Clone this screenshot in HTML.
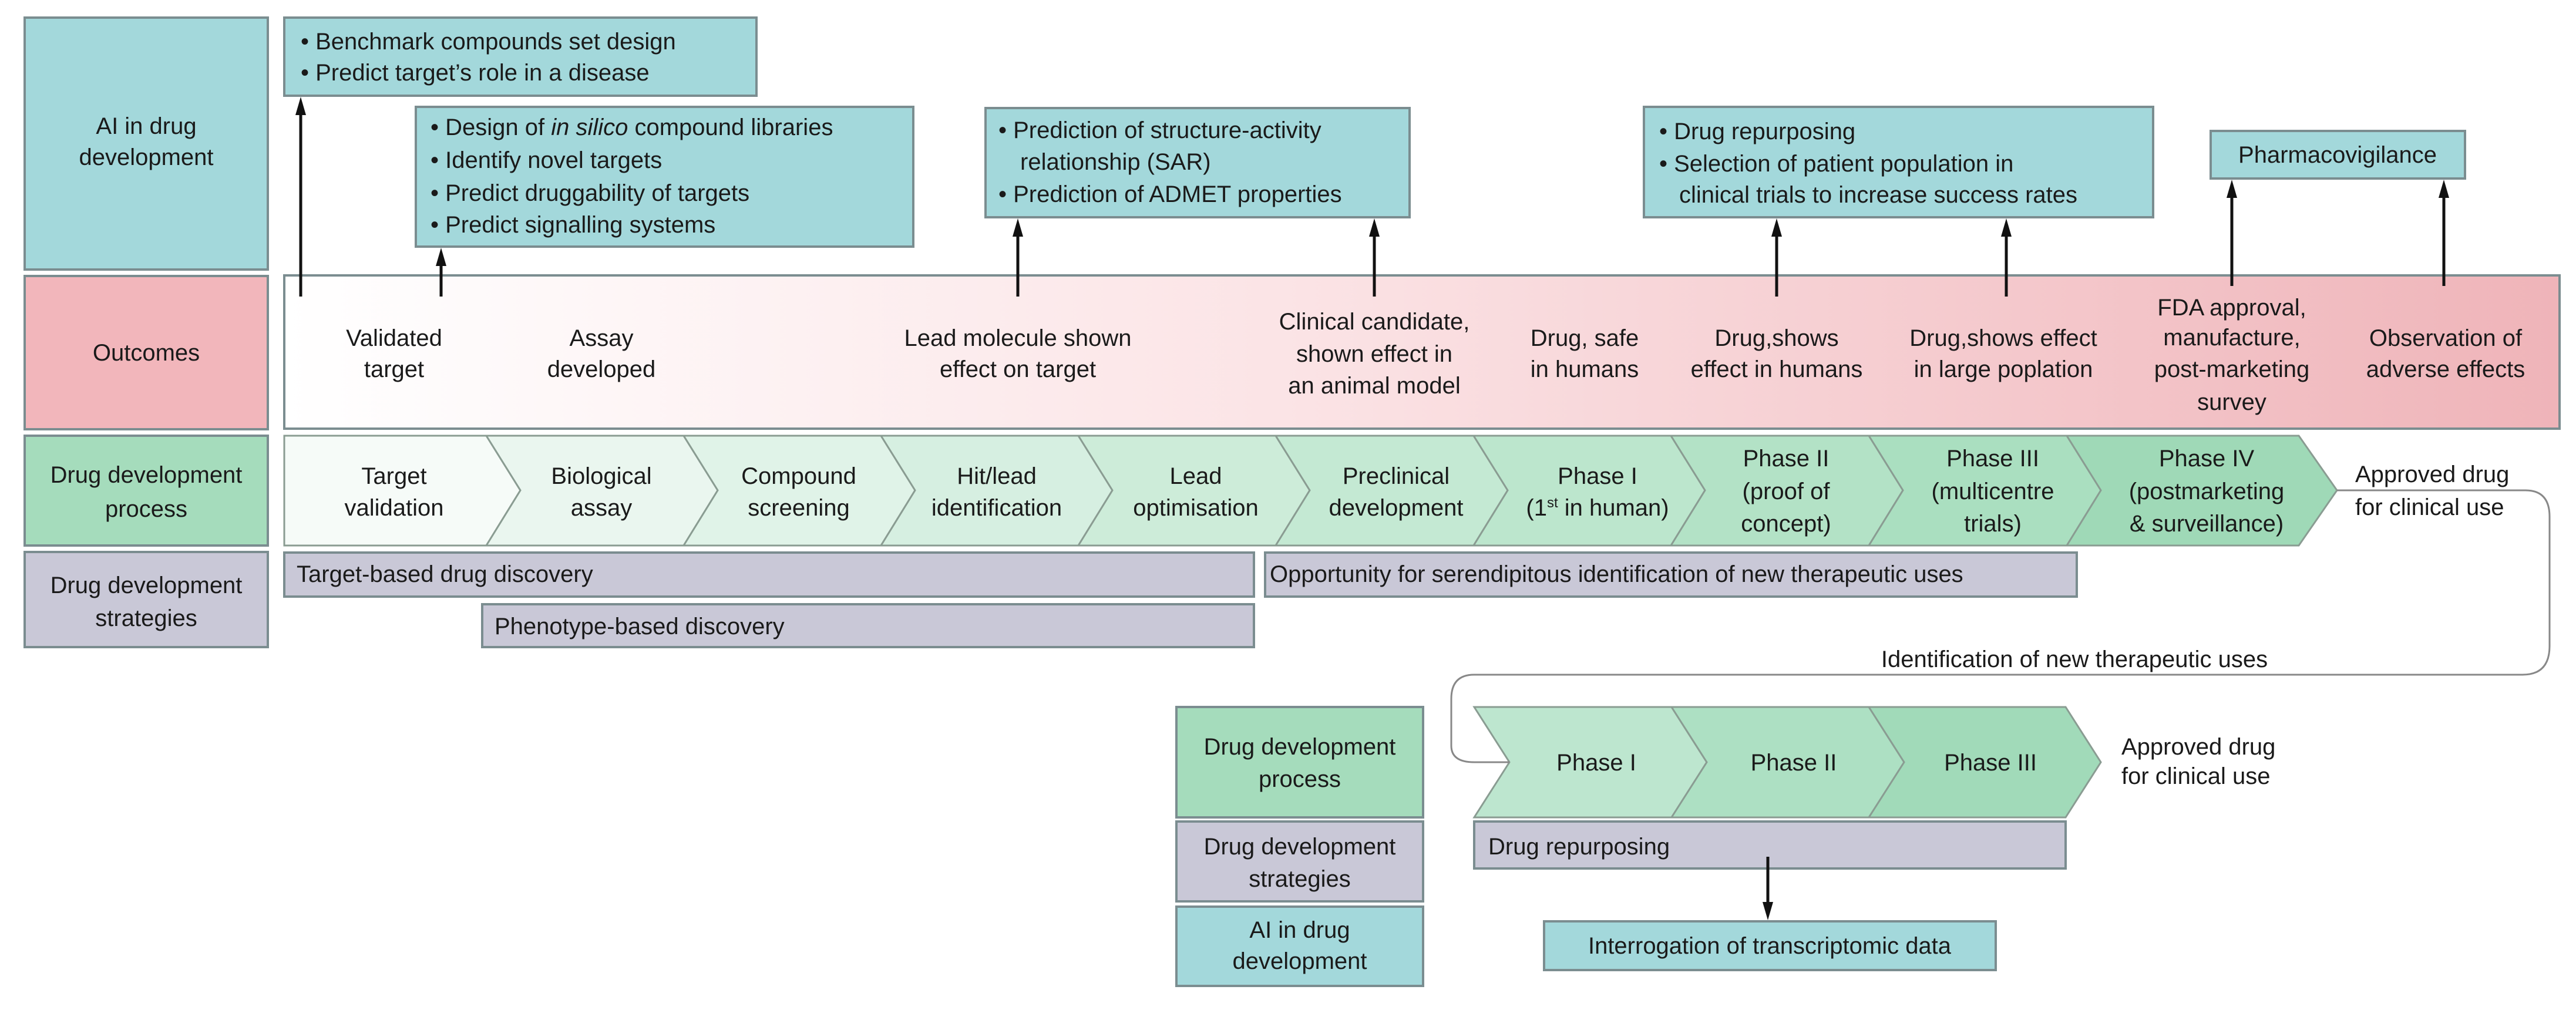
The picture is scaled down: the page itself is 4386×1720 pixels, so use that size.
<!DOCTYPE html>
<html><head><meta charset="utf-8"><style>
html,body{margin:0;padding:0;background:#fff}
svg{display:block}
text{font-family:"Liberation Sans Narrow","Liberation Sans",sans-serif;font-size:40px;fill:#1a1a1a}
.c{text-anchor:middle}
</style></head><body>
<svg width="4386" height="1720" viewBox="0 0 4386 1720" xmlns="http://www.w3.org/2000/svg">
<defs>
<linearGradient id="pk" x1="0" x2="1" y1="0" y2="0">
<stop offset="0" stop-color="#ffffff"/><stop offset="0.45" stop-color="#fbe3e5"/><stop offset="1" stop-color="#efb4b9"/>
</linearGradient>
</defs>
<g stroke="#7b8d90" stroke-width="4">
<rect x="42" y="30" width="414" height="429" fill="#a3d8db"/>
<rect x="42" y="470" width="414" height="261" fill="#f2b6bb"/>
<rect x="42" y="742" width="414" height="187" fill="#a5dcbc"/>
<rect x="42" y="940" width="414" height="162" fill="#c9c8d7"/>
<rect x="484" y="30" width="804" height="133" fill="#a3d8db"/>
<rect x="708" y="182" width="847" height="238" fill="#a3d8db"/>
<rect x="1678" y="184" width="722" height="186" fill="#a3d8db"/>
<rect x="2799" y="182" width="867" height="188" fill="#a3d8db"/>
<rect x="3764" y="223" width="433" height="81" fill="#a3d8db"/>
<rect x="484" y="469" width="3874" height="261" fill="url(#pk)"/>
<rect x="484" y="941" width="1651" height="75" fill="#c9c8d7"/>
<rect x="821" y="1029" width="1314" height="73" fill="#c9c8d7"/>
<rect x="2154" y="941" width="1382" height="75" fill="#c9c8d7"/>
</g>
<g stroke="#8a9c92" stroke-width="3">
<polygon points="484,742 828,742 886,835 828,929 484,929" fill="#f6fbf8"/>
<polygon points="828,742 1164,742 1222,835 1164,929 828,929 886,835" fill="#eaf6ef"/>
<polygon points="1164,742 1500,742 1558,835 1500,929 1164,929 1222,835" fill="#e0f3e8"/>
<polygon points="1500,742 1836,742 1894,835 1836,929 1500,929 1558,835" fill="#d6efe1"/>
<polygon points="1836,742 2172,742 2230,835 2172,929 1836,929 1894,835" fill="#cdecd9"/>
<polygon points="2172,742 2509,742 2567,835 2509,929 2172,929 2230,835" fill="#c4e9d3"/>
<polygon points="2509,742 2845,742 2903,835 2845,929 2509,929 2567,835" fill="#bce6cd"/>
<polygon points="2845,742 3182,742 3240,835 3182,929 2845,929 2903,835" fill="#b3e2c6"/>
<polygon points="3182,742 3519,742 3577,835 3519,929 3182,929 3240,835" fill="#aadfc0"/>
<polygon points="3519,742 3914,742 3979,835 3914,929 3519,929 3577,835" fill="#9fd9b7"/>
<polygon points="2510,1204 2846,1204 2906,1298 2846,1392 2510,1392 2570,1298" fill="#bde6cf"/>
<polygon points="2846,1204 3182,1204 3242,1298 3182,1392 2846,1392 2906,1298" fill="#ade0c3"/>
<polygon points="3182,1204 3517,1204 3577,1298 3517,1392 3182,1392 3242,1298" fill="#a1dab9"/>
</g>
<g stroke="#7b8d90" stroke-width="4">
<rect x="2003" y="1204" width="420" height="188" fill="#a5dcbc"/>
<rect x="2003" y="1399" width="420" height="136" fill="#c9c8d7"/>
<rect x="2003" y="1544" width="420" height="135" fill="#a3d8db"/>
<rect x="2510" y="1399" width="1007" height="80" fill="#c9c8d7"/>
<rect x="2629" y="1569" width="769" height="83" fill="#a3d8db"/>
</g>
<path d="M3979,835 L4300,835 Q4341,835 4341,880 L4341,1100 Q4341,1149 4295,1149 L2510,1149 Q2471,1149 2471,1190 L2471,1270 Q2471,1298 2510,1298 L2570,1298" fill="none" stroke="#888" stroke-width="3"/>
<g stroke="#111" stroke-width="5">
<line x1="512" y1="505" x2="512" y2="185"/>
<line x1="751" y1="505" x2="751" y2="442"/>
<line x1="1733" y1="505" x2="1733" y2="392"/>
<line x1="2340" y1="505" x2="2340" y2="392"/>
<line x1="3025" y1="505" x2="3025" y2="392"/>
<line x1="3416" y1="505" x2="3416" y2="392"/>
<line x1="3800" y1="487" x2="3800" y2="328"/>
<line x1="4161" y1="487" x2="4161" y2="328"/>
<line x1="3010" y1="1459" x2="3010" y2="1545"/>
</g>
<g fill="#111">
<polygon points="503,196 512,165 521,196"/>
<polygon points="742,453 751,422 760,453"/>
<polygon points="1724,403 1733,372 1742,403"/>
<polygon points="2331,403 2340,372 2349,403"/>
<polygon points="3016,403 3025,372 3034,403"/>
<polygon points="3407,403 3416,372 3425,403"/>
<polygon points="3791,337 3800,306 3809,337"/>
<polygon points="4152,337 4161,306 4170,337"/>
<polygon points="3001,1536 3010,1567 3019,1536"/>
</g>
<text class="c" x="249" y="228">AI in drug</text><text class="c" x="249" y="281">development</text>
<text class="c" x="249" y="614">Outcomes</text>
<text class="c" x="249" y="822">Drug development</text><text class="c" x="249" y="880">process</text>
<text class="c" x="249" y="1010">Drug development</text><text class="c" x="249" y="1066">strategies</text>
<text x="512" y="84">•  Benchmark compounds set design</text>
<text x="512" y="137">•  Predict target’s role in a disease</text>
<text x="733" y="230">•  Design of <tspan font-style="italic">in silico</tspan> compound libraries</text>
<text x="733" y="286">•  Identify novel targets</text>
<text x="733" y="342">•  Predict druggability of targets</text>
<text x="733" y="396">•  Predict signalling systems</text>
<text x="1700" y="235">•  Prediction of structure-activity</text>
<text x="1737" y="289">relationship (SAR)</text>
<text x="1700" y="344">•  Prediction of ADMET properties</text>
<text x="2825" y="237">•  Drug repurposing</text>
<text x="2825" y="292">•  Selection of patient population in</text>
<text x="2859" y="345">clinical trials to increase success rates</text>
<text class="c" x="3980" y="277">Pharmacovigilance</text>
<text class="c" x="671" y="589">Validated</text><text class="c" x="671" y="642">target</text>
<text class="c" x="1024" y="589">Assay</text><text class="c" x="1024" y="642">developed</text>
<text class="c" x="1733" y="589">Lead molecule shown</text><text class="c" x="1733" y="642">effect on target</text>
<text class="c" x="2340" y="561">Clinical candidate,</text><text class="c" x="2340" y="616">shown effect in</text><text class="c" x="2340" y="670">an animal model</text>
<text class="c" x="2698" y="589">Drug, safe</text><text class="c" x="2698" y="642">in humans</text>
<text class="c" x="3025" y="589">Drug,shows</text><text class="c" x="3025" y="642">effect in humans</text>
<text class="c" x="3411" y="589">Drug,shows effect</text><text class="c" x="3411" y="642">in large poplation</text>
<text class="c" x="3800" y="537">FDA approval,</text><text class="c" x="3800" y="588">manufacture,</text><text class="c" x="3800" y="642">post-marketing</text><text class="c" x="3800" y="698">survey</text>
<text class="c" x="4164" y="589">Observation of</text><text class="c" x="4164" y="642">adverse effects</text>
<text class="c" x="671" y="824">Target</text><text class="c" x="671" y="878">validation</text>
<text class="c" x="1024" y="824">Biological</text><text class="c" x="1024" y="878">assay</text>
<text class="c" x="1360" y="824">Compound</text><text class="c" x="1360" y="878">screening</text>
<text class="c" x="1697" y="824">Hit/lead</text><text class="c" x="1697" y="878">identification</text>
<text class="c" x="2036" y="824">Lead</text><text class="c" x="2036" y="878">optimisation</text>
<text class="c" x="2377" y="824">Preclinical</text><text class="c" x="2377" y="878">development</text>
<text class="c" x="2720" y="824">Phase I</text><text class="c" x="2720" y="878">(1<tspan font-size="24" dy="-14">st</tspan><tspan dy="14"> in human)</tspan></text>
<text class="c" x="3041" y="794">Phase II</text><text class="c" x="3041" y="850">(proof of</text><text class="c" x="3041" y="905">concept)</text>
<text class="c" x="3393" y="794">Phase III</text><text class="c" x="3393" y="850">(multicentre</text><text class="c" x="3393" y="905">trials)</text>
<text class="c" x="3757" y="794">Phase IV</text><text class="c" x="3757" y="850">(postmarketing</text><text class="c" x="3757" y="905">&amp; surveillance)</text>
<text x="4010" y="821">Approved drug</text><text x="4010" y="877">for clinical use</text>
<text x="505" y="991">Target-based drug discovery</text>
<text x="842" y="1080">Phenotype-based discovery</text>
<text x="2162" y="991">Opportunity for serendipitous identification of new therapeutic uses</text>
<text class="c" x="3532" y="1136">Identification of new therapeutic uses</text>
<text class="c" x="2213" y="1285">Drug development</text><text class="c" x="2213" y="1340">process</text>
<text class="c" x="2213" y="1455">Drug development</text><text class="c" x="2213" y="1510">strategies</text>
<text class="c" x="2213" y="1597">AI in drug</text><text class="c" x="2213" y="1650">development</text>
<text class="c" x="2718" y="1312">Phase I</text>
<text class="c" x="3054" y="1312">Phase II</text>
<text class="c" x="3389" y="1312">Phase III</text>
<text x="3612" y="1285">Approved drug</text><text x="3612" y="1335">for clinical use</text>
<text x="2534" y="1455">Drug repurposing</text>
<text class="c" x="3013" y="1624">Interrogation of transcriptomic data</text>
</svg>
</body></html>
